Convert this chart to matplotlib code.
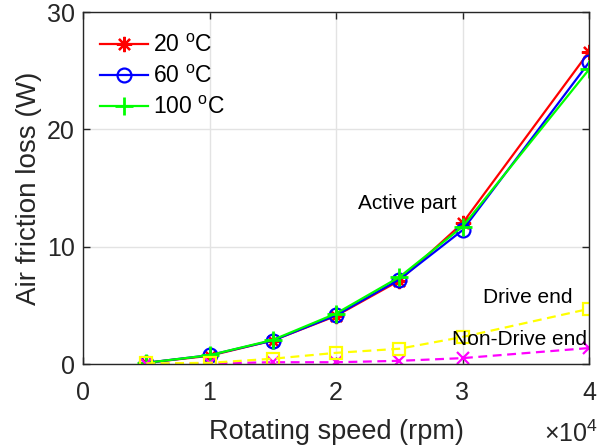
import matplotlib
matplotlib.use("Agg")
import matplotlib.pyplot as plt

plt.rcParams['font.family'] = ['Liberation Sans', 'DejaVu Sans']
plt.rcParams['mathtext.fontset'] = 'custom'
plt.rcParams['mathtext.rm'] = 'Liberation Sans'
plt.rcParams['mathtext.it'] = 'Liberation Sans:italic'

speed = [5000, 10000, 15000, 20000, 25000, 30000, 40000]
active_20 = [0.1, 0.7, 2.0, 4.1, 7.1, 12.0, 26.6]
active_60 = [0.1, 0.75, 2.0, 4.15, 7.2, 11.4, 25.7]
active_100 = [0.1, 0.75, 2.05, 4.3, 7.4, 11.7, 25.1]
drive_end = [0.05, 0.1, 0.45, 0.95, 1.3, 2.3, 4.7]
non_drive_end = [0.01, 0.05, 0.15, 0.15, 0.27, 0.5, 1.36]
legend_labels = ['20 $^{\\mathrm{o}}$C', '60 $^{\\mathrm{o}}$C', '100 $^{\\mathrm{o}}$C']
xticks = [0, 10000, 20000, 30000, 40000]
xtick_labels = ['0', '1', '2', '3', '4']
yticks = [0, 10, 20, 30]

W, H = 605, 448
fig = plt.figure(figsize=(W / 100, H / 100), dpi=100)
ax = fig.add_axes([83 / W, 1 - 364 / H, (589 - 83) / W, (364 - 12) / H])

axc = '#262626'
lw = 1.6
h1, = ax.plot(speed, active_20, color='red', lw=lw, marker=(8, 2, 0), ms=11, mew=1.6)
h2, = ax.plot(speed, active_60, color='blue', lw=lw, marker='o', ms=10, mfc='none', mew=1.6)
h3, = ax.plot(speed, active_100, color='#00ff00', lw=lw, marker='+', ms=13, mew=2)
ax.plot(speed, non_drive_end, color='magenta', lw=lw, ls=(0, (4, 2.5)), marker='x', ms=9, mew=1.6)
ax.plot(speed, drive_end, color='yellow', lw=lw, ls=(0, (4, 2.5)), marker='s', ms=9, mfc='none', mew=1.6)

ax.set_xlim(0, 40000)
ax.set_ylim(0, 30)
ax.set_xticks(xticks)
ax.set_xticklabels(xtick_labels)
ax.set_yticks(yticks)
ax.grid(True, color='#e3e3e3', lw=1)
ax.set_axisbelow(True)
for s in ax.spines.values():
    s.set_color(axc)
    s.set_linewidth(1)
ax.tick_params(direction='in', length=5, width=1, colors=axc, labelsize=18,
               top=True, right=True)
ax.tick_params(axis='x', pad=12)
ax.tick_params(axis='y', pad=6)

ax.set_xlabel('Rotating speed (rpm)', fontsize=19.5, color=axc, labelpad=10)
ax.set_ylabel('Air friction loss (W)', fontsize=20, color=axc, labelpad=3)

fig.text(598 / W, 1 - 442 / H, '$\\times$10$^{4}$', fontsize=18, color=axc,
         ha='right', va='baseline')

ax.text(21740, 13.7, 'Active part', fontsize=15, va='center', ha='left', color='black')
ax.text(31620, 5.7, 'Drive end', fontsize=15, va='center', ha='left', color='black')
ax.text(29170, 2.1, 'Non-Drive end', fontsize=15, va='center', ha='left', color='black')

leg = ax.legend([h1, h2, h3], legend_labels, loc='upper left',
                bbox_to_anchor=(100 / W, 1 - 34 / H), bbox_transform=fig.transFigure,
                frameon=False, fontsize=16.5, handlelength=2.1, handletextpad=0.2,
                labelspacing=0.36, borderpad=0, borderaxespad=0)
for t in leg.get_texts():
    t.set_color('black')

fig.savefig('out.png', dpi=100)
